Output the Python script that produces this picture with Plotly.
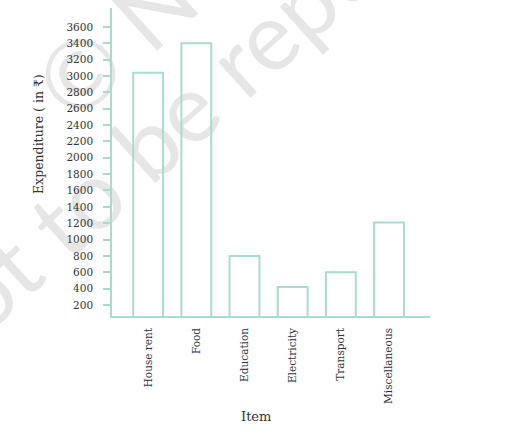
import plotly.graph_objects as go
import math

items = ["House rent", "Food", "Education", "Electricity", "Transport", "Miscellaneous"]
expenditure = [3040, 3400, 800, 420, 600, 1210]
y_ticks = list(range(200, 3601, 200))

TEAL = "#a8dccf"
W, H = 511, 446
L, R, T, B = 112, 430, 8, 316

def px(x):
    return (x - L) / (R - L)

def py(y):
    return (B - y) / (B - T)

fig = go.Figure()
fig.add_trace(go.Bar(
    x=items, y=expenditure, width=0.62,
    marker=dict(color="rgba(0,0,0,0)", line=dict(color=TEAL, width=2)),
    hoverinfo="skip",
))

# watermark (drawn below the traces)
ANG = 42
ang = math.radians(ANG)
dx, dy = math.cos(ang), -math.sin(ang)
def wm(text, cx, cy, size):
    fig.add_shape(type="line", xref="paper", yref="paper", layer="below",
                  x0=px(cx - 10 * dx), y0=py(cy - 10 * dy),
                  x1=px(cx + 10 * dx), y1=py(cy + 10 * dy),
                  line=dict(width=0, color="rgba(0,0,0,0)"),
                  label=dict(text=text, textangle=-ANG, textposition="middle",
                             yanchor="middle",
                             font=dict(family="Lato", size=size, color="#e6e6e6")))

wm("© NCERT", 200, -39, 95)
wm("not to be republished", 250, 47, 95)

fig.update_layout(
    width=W, height=H,
    margin=dict(l=L, r=W - R, t=T, b=H - B),
    paper_bgcolor="white", plot_bgcolor="rgba(0,0,0,0)",
    showlegend=False,
    xaxis=dict(
        range=[-0.75, 5.85], showline=True, linecolor=TEAL, linewidth=1.5,
        showgrid=False, zeroline=False, ticks="", tickangle=-90,
        ticklabelstandoff=6,
        tickfont=dict(family="DejaVu Serif", size=10.5, color="#333"),
    ),
    yaxis=dict(
        range=[65, 3832], showline=True, linecolor=TEAL, linewidth=1.5,
        showgrid=False, zeroline=False, ticks="outside", ticklen=7,
        tickcolor=TEAL, tickwidth=1.5, tickvals=y_ticks,
        ticklabelstandoff=8,
        tickfont=dict(family="DejaVu Serif", size=10.5, color="#333"),
    ),
    annotations=[
        dict(text="Expenditure ( in ₹)", xref="paper", yref="paper",
             x=px(38), y=py(134), textangle=-90, showarrow=False,
             xanchor="center", yanchor="middle",
             font=dict(family="DejaVu Serif", size=12.5, color="#333")),
        dict(text="Item", xref="paper", yref="paper",
             x=px(256), y=py(416), showarrow=False,
             xanchor="center", yanchor="middle",
             font=dict(family="DejaVu Serif", size=13, color="#333")),
    ],
)

fig.write_html("out.html", config={"displayModeBar": False},
               post_script="document.body.style.margin='0';")
